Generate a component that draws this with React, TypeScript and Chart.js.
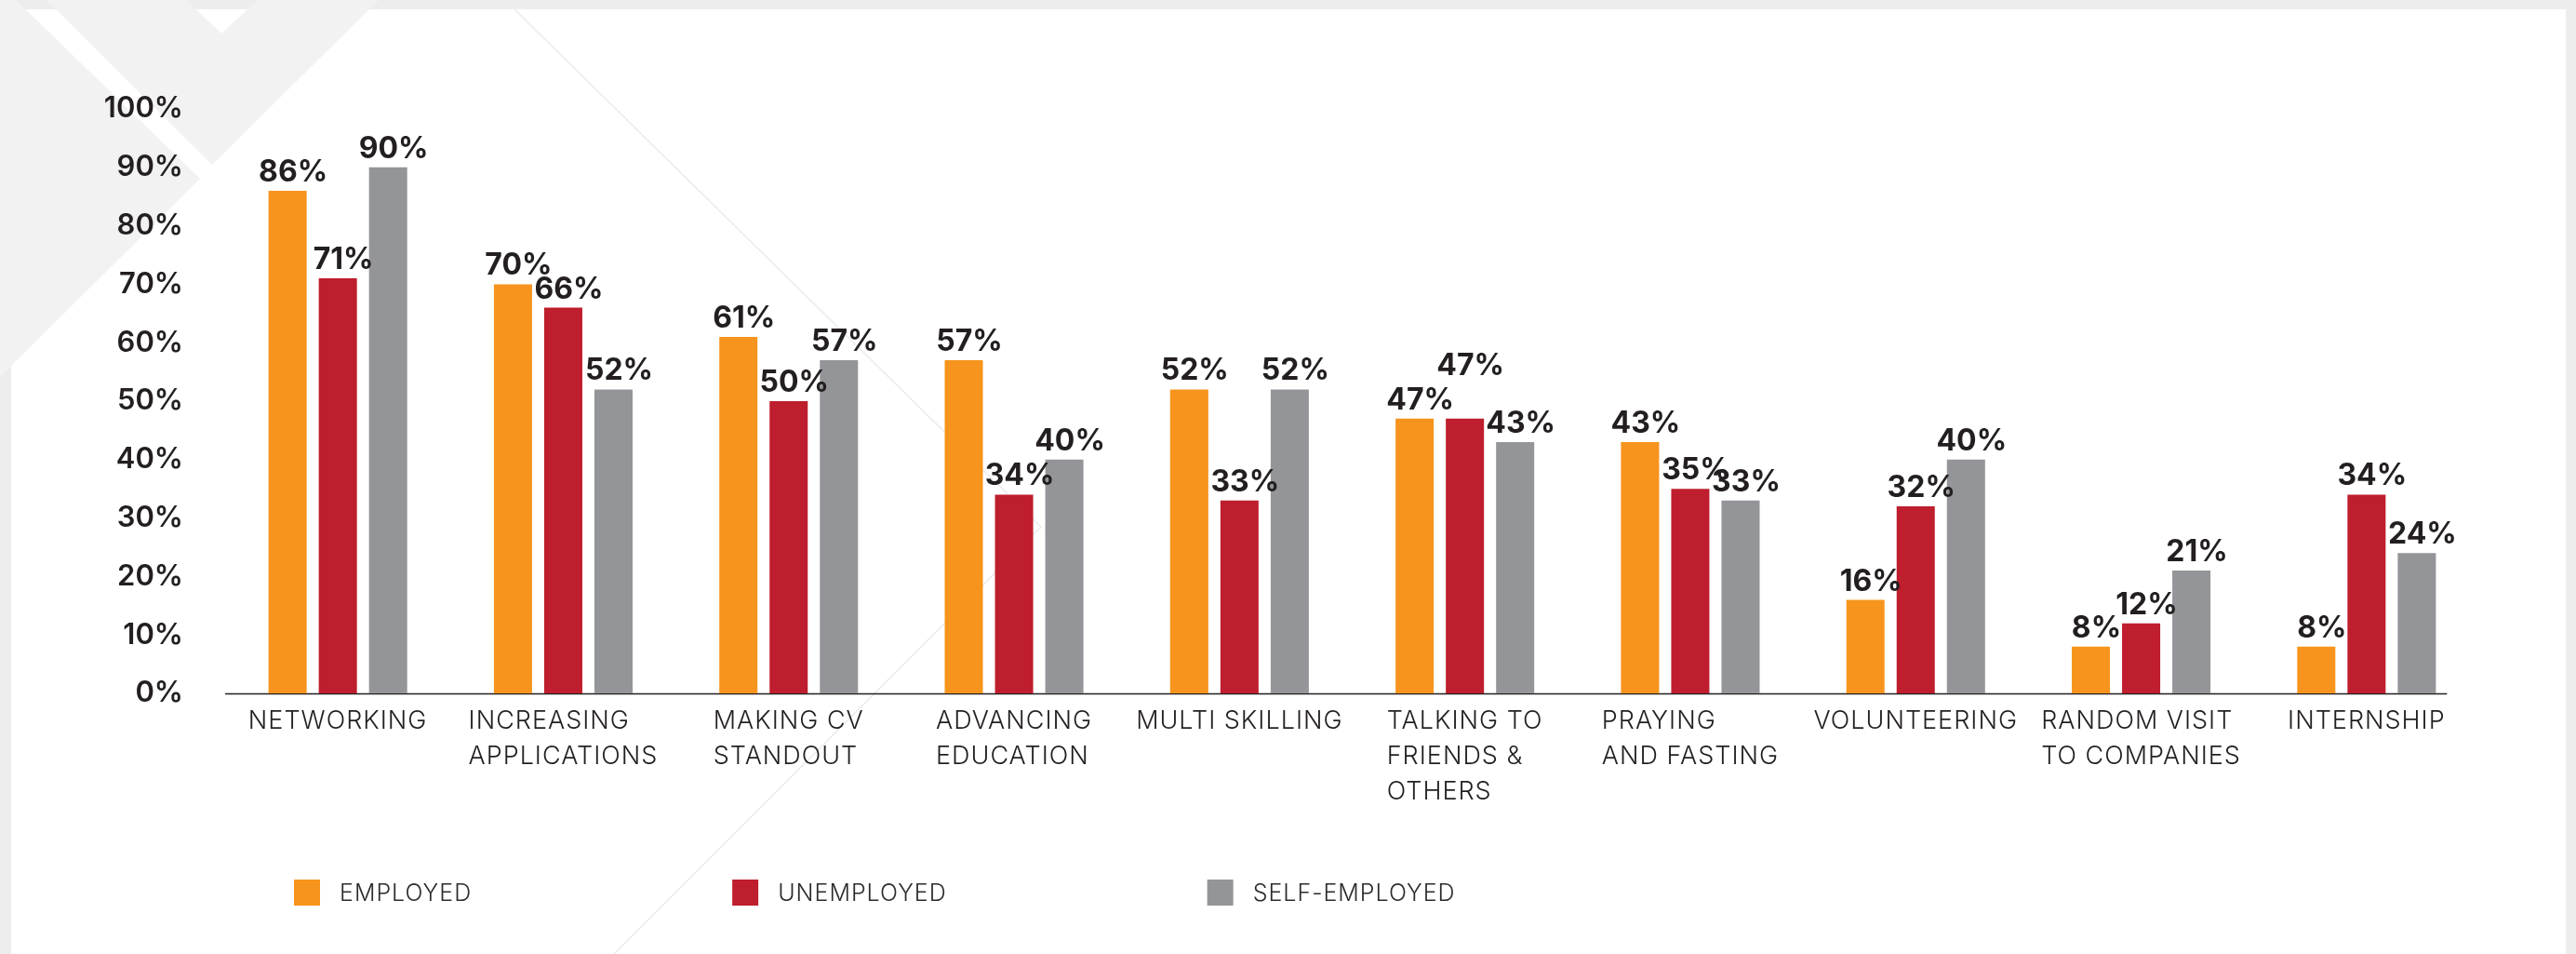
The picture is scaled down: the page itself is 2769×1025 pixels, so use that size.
import React, { useEffect, useRef } from 'react';
import { Chart, registerables } from 'chart.js';

Chart.register(...registerables);

const categories: string[][] = [
  ['NETWORKING'],
  ['INCREASING', 'APPLICATIONS'],
  ['MAKING CV', 'STANDOUT'],
  ['ADVANCING', 'EDUCATION'],
  ['MULTI SKILLING'],
  ['TALKING TO', 'FRIENDS &', 'OTHERS'],
  ['PRAYING', 'AND FASTING'],
  ['VOLUNTEERING'],
  ['RANDOM VISIT', 'TO COMPANIES'],
  ['INTERNSHIP'],
];
const seriesNames = ['EMPLOYED', 'UNEMPLOYED', 'SELF-EMPLOYED'];
const employed = [86, 70, 61, 57, 52, 47, 43, 16, 8, 8];
const unemployed = [71, 66, 50, 34, 33, 47, 35, 32, 12, 34];
const selfEmployed = [90, 52, 57, 40, 52, 43, 33, 40, 21, 24];
const seriesColors = ['#f7941d', '#be1e2d', '#939598'];
const yMin = 0;
const yMax = 100;
const yStep = 10;

const W = 2769;
const H = 1025;
const FONT = "Inter, 'Open Sans', 'DejaVu Sans', sans-serif";
const TEXT = '#231f20';

const backgroundPlugin = {
  id: 'bgDeco',
  beforeDraw(chart: any) {
    const ctx = chart.ctx;
    ctx.save();
    ctx.fillStyle = '#ededed';
    ctx.fillRect(0, 0, W, H);
    ctx.fillStyle = '#ffffff';
    ctx.fillRect(12, 10, 2758 - 12, H - 10);
    // decorative chevrons
    ctx.fillStyle = '#f2f2f2';
    ctx.beginPath();
    ctx.moveTo(0, 0);
    ctx.lineTo(17, 0);
    ctx.lineTo(215, 192);
    ctx.lineTo(0, 405);
    ctx.closePath();
    ctx.fill();
    ctx.beginPath();
    ctx.moveTo(50, 0);
    ctx.lineTo(228, 177);
    ctx.lineTo(407, 0);
    ctx.lineTo(277, 0);
    ctx.lineTo(238, 36);
    ctx.lineTo(200, 0);
    ctx.closePath();
    ctx.fill();
    // thin decorative line
    ctx.strokeStyle = '#ebebeb';
    ctx.lineWidth = 1.5;
    ctx.beginPath();
    ctx.moveTo(553, 10);
    ctx.lineTo(1119, 566);
    ctx.lineTo(660, H);
    ctx.stroke();
    ctx.restore();
  },
};

const axisLinePlugin = {
  id: 'axisLine',
  beforeDatasetsDraw(chart: any) {
    const ctx = chart.ctx;
    const area = chart.chartArea;
    const metas = chart.getSortedVisibleDatasetMetas();
    const lastMeta = metas[metas.length - 1];
    const lastEl = lastMeta.data[lastMeta.data.length - 1];
    const end = lastEl.x + lastEl.width / 2 + 12;
    ctx.save();
    ctx.strokeStyle = TEXT;
    ctx.lineWidth = 1.5;
    ctx.beginPath();
    ctx.moveTo(area.left, area.bottom + 0.5);
    ctx.lineTo(end, area.bottom + 0.5);
    ctx.stroke();
    ctx.restore();
  },
};

const dataLabelPlugin = {
  id: 'dataLabels',
  afterDatasetsDraw(chart: any) {
    const ctx = chart.ctx;
    ctx.save();
    ctx.font = `700 32px ${FONT}`;
    ctx.fillStyle = TEXT;
    ctx.textAlign = 'center';
    ctx.textBaseline = 'alphabetic';
    const capH = 23;
    const metas = chart.getSortedVisibleDatasetMetas();
    const n = chart.data.labels.length;
    for (let i = 0; i < n; i++) {
      const placed: { l: number; r: number; t: number; b: number }[] = [];
      metas.forEach((meta: any) => {
        const el = meta.data[i];
        const v = chart.data.datasets[meta.index].data[i];
        const txt = `${v}%`;
        const w = ctx.measureText(txt).width;
        const cx = el.x + 6;
        let b = el.y - 10;
        let moved = true;
        while (moved) {
          moved = false;
          for (const p of placed) {
            const hOverlap = Math.min(cx + w / 2, p.r) - Math.max(cx - w / 2, p.l);
            const vOverlap = Math.min(b, p.b) - Math.max(b - capH, p.t);
            if (hOverlap > 0 && vOverlap > capH * 0.5) {
              b = p.t - 14;
              moved = true;
            }
          }
        }
        ctx.fillText(txt, cx, b);
        placed.push({ l: cx - w / 2, r: cx + w / 2, t: b - capH, b });
      });
    }
    ctx.restore();
  },
};

const xLabelPlugin = {
  id: 'xLabels',
  afterDraw(chart: any) {
    const ctx = chart.ctx;
    const xs = chart.scales.x;
    const area = chart.chartArea;
    ctx.save();
    ctx.font = `300 27px ${FONT}`;
    try {
      (ctx as any).letterSpacing = '1px';
    } catch (e) {
      /* ignore */
    }
    ctx.fillStyle = TEXT;
    ctx.textAlign = 'left';
    ctx.textBaseline = 'middle';
    (chart.data.labels as string[][]).forEach((lines, i) => {
      const cx = xs.getPixelForValue(i);
      const bw = Math.max(...lines.map((l) => ctx.measureText(l).width));
      const left = cx - bw / 2;
      lines.forEach((line, j) => {
        ctx.fillText(line, left, area.bottom + 30 + j * 37.7);
      });
    });
    ctx.restore();
  },
};

const legendPlugin = {
  id: 'customLegend',
  afterDraw(chart: any) {
    const ctx = chart.ctx;
    ctx.save();
    ctx.font = `300 25px ${FONT}`;
    try {
      (ctx as any).letterSpacing = '1px';
    } catch (e) {
      /* ignore */
    }
    ctx.textAlign = 'left';
    ctx.textBaseline = 'middle';
    let x = 316;
    const box = 28;
    const top = 945;
    chart.data.datasets.forEach((ds: any) => {
      ctx.fillStyle = ds.backgroundColor;
      ctx.fillRect(x, top, box, box);
      ctx.fillStyle = '#2b2b2b';
      const tx = x + box + 21;
      ctx.fillText(ds.label, tx, top + box / 2 + 1);
      x = tx + ctx.measureText(ds.label).width + 280;
    });
    ctx.restore();
  },
};

export default function App() {
  const canvasRef = useRef<HTMLCanvasElement | null>(null);

  useEffect(() => {
    const canvas = canvasRef.current;
    if (!canvas) return;
    const seriesData = [employed, unemployed, selfEmployed];
    const chart = new Chart(canvas, {
      type: 'bar',
      data: {
        labels: categories,
        datasets: seriesNames.map((name, k) => ({
          label: name,
          data: seriesData[k],
          backgroundColor: seriesColors[k],
          borderWidth: 0,
          categoryPercentage: 0.669,
          barPercentage: 0.759,
        })),
      },
      options: {
        responsive: false,
        animation: false,
        events: [],
        layout: { padding: { top: 117, right: 104, bottom: 0, left: 0 } },
        plugins: {
          legend: { display: false },
          tooltip: { enabled: false },
          title: { display: false },
        },
        scales: {
          x: {
            grid: { display: false, drawTicks: false },
            border: { display: false },
            ticks: { display: false },
            afterFit: (s: any) => {
              s.height = 280;
            },
          },
          y: {
            min: yMin,
            max: yMax,
            grid: { display: false, drawTicks: false },
            border: { display: false },
            ticks: {
              stepSize: yStep,
              padding: 45,
              color: TEXT,
              font: { family: FONT, size: 31, weight: '600' },
              callback: (v: any) => `${v}%`,
            },
            afterFit: (s: any) => {
              s.width = 242;
            },
          },
        },
      } as any,
      plugins: [backgroundPlugin, axisLinePlugin, dataLabelPlugin, xLabelPlugin, legendPlugin],
    });
    return () => chart.destroy();
  }, []);

  return (
    <div style={{ position: 'fixed', left: 0, top: 0, width: W, height: H, overflow: 'hidden' }}>
      <canvas ref={canvasRef} width={W} height={H} style={{ width: W, height: H, display: 'block' }} />
    </div>
  );
}
